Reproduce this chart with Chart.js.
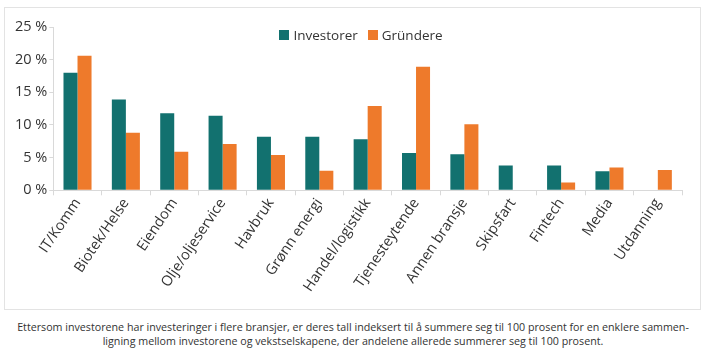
<!DOCTYPE html>
<html>
<head>
<meta charset="utf-8">
<script src="https://cdn.jsdelivr.net/npm/chart.js@4"></script>
<style>
    body { margin: 0; background: #fff; font-family: "Open Sans", sans-serif; }
    #box {
        position: absolute; left: 4px; top: 7px; width: 697px; height: 303px;
        border: 1px solid #e3e3e3; box-sizing: border-box;
    }
    #chartWrap { position: absolute; left: 0; top: 0; width: 695px; height: 301px; }
    #legend {
        position: absolute; left: 0; top: 17px; width: 712px; text-align: center;
        font-size: 13.5px; line-height: 20px; color: #333;
    }
    #legend span.item { margin: 0 5px; white-space: nowrap; }
    #legend span.swatch { display: inline-block; width: 10px; height: 10px; margin-right: 4px; vertical-align: 0; }
    #caption {
        position: absolute; left: 0; top: 320px; width: 706px; text-align: center;
        font-size: 10.7px; line-height: 14px; color: #333; white-space: nowrap;
    }
</style>
</head>
<body>
<div id="box"><div id="chartWrap"><canvas id="industryChart"></canvas></div><div id="legend"></div></div>
<div id="caption">Ettersom investorene har investeringer i flere bransjer, er deres tall indeksert til å summere seg til 100 prosent for en enklere sammen-<br>ligning mellom investorene og vekstselskapene, der andelene allerede summerer seg til 100 prosent.</div>
<script>
const categories = ['IT/Komm', 'Biotek/Helse', 'Eiendom', 'Olje/oljeservice', 'Havbruk', 'Grønn energi',
    'Handel/logistikk', 'Tjenesteytende', 'Annen bransje', 'Skipsfart', 'Fintech', 'Media', 'Utdanning'];
const investorer = [18.0, 13.9, 11.8, 11.4, 8.2, 8.2, 7.8, 5.7, 5.5, 3.8, 3.8, 2.9, 0];
const grundere = [20.6, 8.8, 5.9, 7.1, 5.4, 3.0, 12.9, 18.9, 10.1, 0, 1.2, 3.5, 3.1];
const yTicks = [0, 5, 10, 15, 20, 25];

const teal = '#12716f';
const orange = '#ee7a2b';
const axisColor = '#d9d9d9';

const ctx = document.getElementById('industryChart').getContext('2d');

const chart = new Chart(ctx, {
    type: 'bar',
    data: {
        labels: categories,
        datasets: [
            { label: 'Investorer', data: investorer, backgroundColor: teal },
            { label: 'Gründere', data: grundere, backgroundColor: orange }
        ]
    },
    options: {
        responsive: true,
        maintainAspectRatio: false,
        animation: false,
        datasets: { bar: { categoryPercentage: 0.58, barPercentage: 1 } },
        layout: { padding: { left: 8, right: 18, top: 19, bottom: 14 } },
        plugins: {
            legend: { display: false },
            tooltip: { enabled: false }
        },
        scales: {
            x: {
                grid: { display: true, offset: true, drawOnChartArea: false, color: axisColor, tickLength: 5 },
                border: { color: axisColor },
                ticks: {
                    color: '#333', font: { family: 'Open Sans', size: 14.5 },
                    maxRotation: 56, minRotation: 56, autoSkip: false, padding: 0
                }
            },
            y: {
                min: 0, max: 25,
                afterBuildTicks: axis => { axis.ticks = yTicks.map(v => ({ value: v })); },
                grid: { display: true, drawOnChartArea: false, color: axisColor, tickLength: 4 },
                border: { color: axisColor },
                ticks: {
                    color: '#333', font: { family: 'Open Sans', size: 14.5 }, padding: 2,
                    callback: v => v + ' %'
                }
            }
        }
    }
});

// legend as html, built from the datasets
document.getElementById('legend').innerHTML = chart.data.datasets.map(ds =>
    `<span class="item"><span class="swatch" style="background:${ds.backgroundColor}"></span>${ds.label}</span>`
).join('');
</script>
</body>
</html>
